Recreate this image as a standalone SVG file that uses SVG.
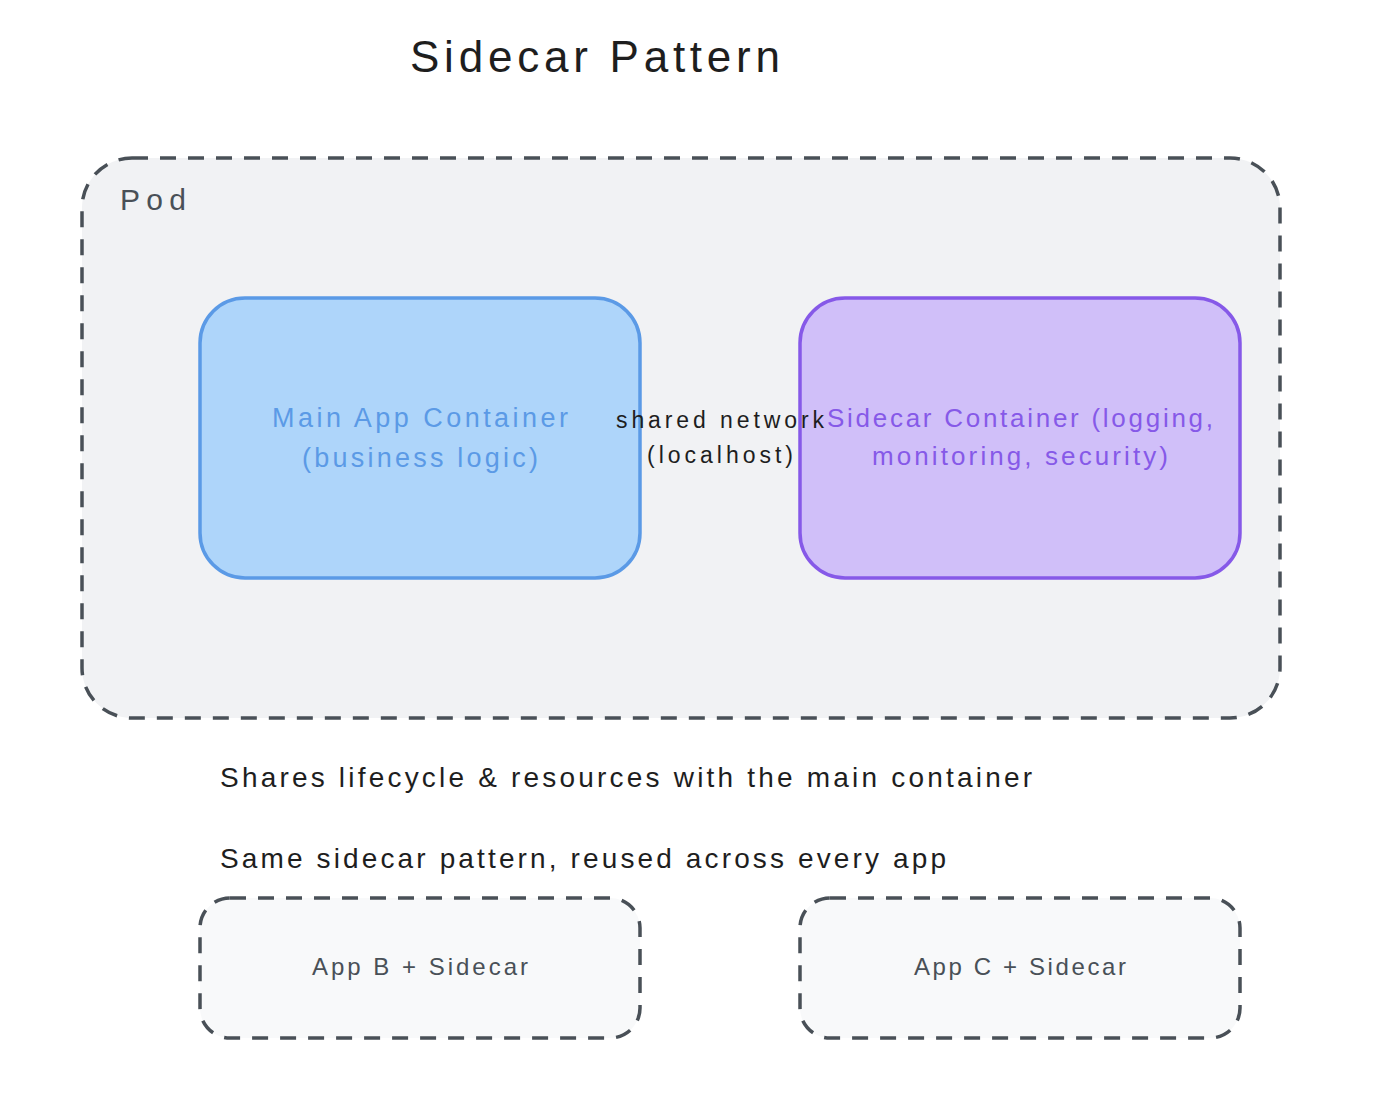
<svg xmlns="http://www.w3.org/2000/svg" width="1376" height="1114" viewBox="0 0 1376 1114">
<style>
text{font-family:"Liberation Sans",Arial,sans-serif}
.dash{stroke:#495057;stroke-width:3.5;stroke-dasharray:16 12}
.c{text-anchor:middle}
</style>
<rect width="1376" height="1114" fill="#fff"/>
<text x="595" y="72" class="c" font-size="44" fill="#1e1e1e" textLength="370" lengthAdjust="spacing">Sidecar Pattern</text>
<g id="pod">
<rect x="82" y="158" width="1198" height="560" rx="50" fill="#f1f2f4" class="dash"/>
<text x="120" y="210" font-size="30" fill="#495057" textLength="66">Pod</text>
</g>
<g id="main-app">
<rect x="200" y="298" width="440" height="280" rx="45" fill="#aed5fa" stroke="#5b9ae6" stroke-width="3.5"/>
<text x="420" y="427" class="c" font-size="27" fill="#5b9ae6" textLength="296">Main App Container</text>
<text x="420" y="467" class="c" font-size="27" fill="#5b9ae6" textLength="236">(business logic)</text>
</g>
<g id="sidecar">
<rect x="800" y="298" width="440" height="280" rx="45" fill="#d0bff9" stroke="#8659e8" stroke-width="3.5"/>
<text x="1020" y="427" class="c" font-size="26" fill="#8659e8" textLength="386">Sidecar Container (logging,</text>
<text x="1020" y="465" class="c" font-size="26" fill="#8659e8" textLength="296">monitoring, security)</text>
</g>
<g id="connectors">
<text x="720" y="428" class="c" font-size="23" fill="#1e1e1e" textLength="208">shared network</text>
<text x="720" y="463" class="c" font-size="23" fill="#1e1e1e" textLength="146">(localhost)</text>
</g>
<g id="notes">
<text x="220" y="787" font-size="28" fill="#1e1e1e" textLength="812">Shares lifecycle &amp; resources with the main container</text>
<text x="220" y="868" font-size="28" fill="#1e1e1e" textLength="726">Same sidecar pattern, reused across every app</text>
</g>
<g id="app-b">
<rect x="200" y="898" width="440" height="140" rx="30" fill="#f8f9fa" class="dash"/>
<text x="420" y="975" class="c" font-size="24" fill="#495057" textLength="216">App B + Sidecar</text>
</g>
<g id="app-c">
<rect x="800" y="898" width="440" height="140" rx="30" fill="#f8f9fa" class="dash"/>
<text x="1020" y="975" class="c" font-size="24" fill="#495057" textLength="212">App C + Sidecar</text>
</g>
</svg>
